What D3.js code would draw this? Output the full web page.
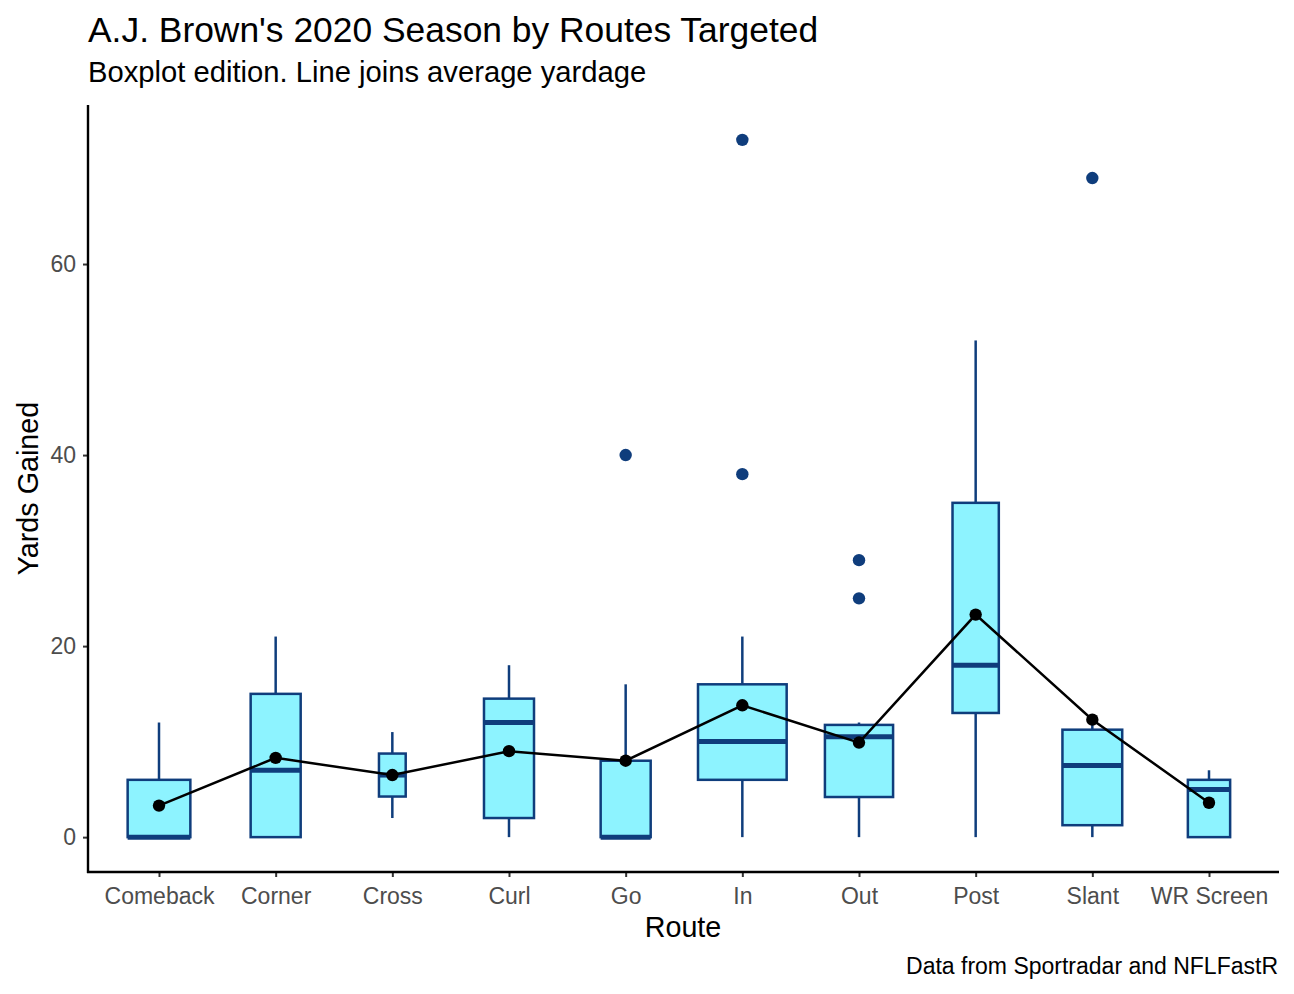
<!DOCTYPE html>
<meta charset="utf-8">
<script src="https://cdn.jsdelivr.net/npm/d3@7"></script>
<style>
    body { margin: 0; background: #fff; }
    svg text { font-family: "Liberation Sans", Arial, Helvetica, sans-serif; }
</style>
<div id="chart"></div>
<script>
// route categories, in axis order
var routes = ["Comeback", "Corner", "Cross", "Curl", "Go", "In", "Out", "Post", "Slant", "WR Screen"];
// boxplot stats per route (yards)
var whiskerLow = [0, 0, 2, 0, 0, 0, 0, 0, 0, 0];
var q1 = [0, 0, 4.25, 2, 0, 6, 4.2, 13, 1.25, 0];
var median = [0, 7, 6.5, 12, 0, 10, 10.5, 18, 7.5, 5];
var q3 = [6, 15, 8.75, 14.5, 8, 16, 11.75, 35, 11.25, 6];
var whiskerHigh = [12, 21, 11, 18, 16, 21, 12, 52, 12, 7];
var meanYards = [3.3, 8.3, 6.5, 9.0, 8.0, 13.8, 9.9, 23.3, 12.3, 3.6];
var targets = [11, 7, 2, 7, 7, 22, 13, 6, 10, 5];
var outliers = [[], [], [], [], [40], [38, 73], [25, 29], [], [69], []];
var yTicks = [0, 20, 40, 60];

var W = 1294, H = 994;
var pL = 89, pR = 1279, pT = 105, pB = 872;
var lineCol = "#0f3d7c", fillCol = "#8df3ff";

var svg = d3.select("#chart").append("svg").attr("width", W).attr("height", H);

var x = d3.scalePoint().domain(routes).range([pL, pR]).padding(0.6);
var y = d3.scaleLinear().domain([-3.65, 76.65]).range([pB, pT]);
var boxW = d3.scaleSqrt().domain([0, d3.max(targets)]).range([0, x.step() * 0.76]);

var rows = routes.map(function (r, i) {
    return { route: r, lo: whiskerLow[i], q1: q1[i], med: median[i], q3: q3[i], hi: whiskerHigh[i],
        mean: meanYards[i], n: targets[i], out: outliers[i] };
});

// boxes
var g = svg.append("g");
var items = g.selectAll("g").data(rows).enter().append("g");
items.each(function (d) {
    var s = d3.select(this), cx = x(d.route), w = boxW(d.n);
    s.append("line").attr("x1", cx).attr("x2", cx).attr("y1", y(d.q3)).attr("y2", y(d.hi))
        .style("stroke", lineCol).style("stroke-width", 2.5);
    s.append("line").attr("x1", cx).attr("x2", cx).attr("y1", y(d.q1)).attr("y2", y(d.lo))
        .style("stroke", lineCol).style("stroke-width", 2.5);
    s.append("rect").attr("x", cx - w / 2).attr("width", w)
        .attr("y", y(d.q3)).attr("height", y(d.q1) - y(d.q3))
        .style("fill", fillCol).style("stroke", lineCol).style("stroke-width", 2.5);
    s.append("line").attr("x1", cx - w / 2).attr("x2", cx + w / 2).attr("y1", y(d.med)).attr("y2", y(d.med))
        .style("stroke", lineCol).style("stroke-width", 5);
    s.selectAll("circle").data(d.out).enter().append("circle")
        .attr("cx", cx).attr("cy", function (v) { return y(v); }).attr("r", 6.2)
        .style("fill", lineCol);
});

// mean line + points
svg.append("path").datum(rows)
    .attr("d", d3.line().x(function (d) { return x(d.route); }).y(function (d) { return y(d.mean); }))
    .style("fill", "none").style("stroke", "#000").style("stroke-width", 2.5);
svg.append("g").selectAll("circle").data(rows).enter().append("circle")
    .attr("cx", function (d) { return x(d.route); }).attr("cy", function (d) { return y(d.mean); })
    .attr("r", 6.2).style("fill", "#000");

// axes
var yAxis = svg.append("g").attr("transform", "translate(" + (pL - 1) + ",0)")
    .call(d3.axisLeft(y).tickValues(yTicks).tickSize(5).tickPadding(7));
var xAxis = svg.append("g").attr("transform", "translate(0," + pB + ")")
    .call(d3.axisBottom(x).tickSize(5).tickPadding(5));
[yAxis, xAxis].forEach(function (a) {
    a.select(".domain").remove();
    a.selectAll(".tick line").style("stroke", "#333").style("stroke-width", 2);
    a.selectAll(".tick text").style("fill", "#4d4d4d").style("font-size", "23px")
        .style("font-family", "'Liberation Sans', Arial, sans-serif");
});
xAxis.selectAll(".tick text").attr("dy", "0.97em");
svg.append("line").attr("x1", pL - 1).attr("x2", pL - 1).attr("y1", pT).attr("y2", pB + 1)
    .style("stroke", "#000").style("stroke-width", 2.4);
svg.append("line").attr("x1", pL - 2).attr("x2", pR).attr("y1", pB).attr("y2", pB)
    .style("stroke", "#000").style("stroke-width", 2.4);

// labels
svg.append("text").attr("x", 88).attr("y", 42).text("A.J. Brown's 2020 Season by Routes Targeted")
    .style("font-size", "35.4px").style("fill", "#000");
svg.append("text").attr("x", 88).attr("y", 82).text("Boxplot edition. Line joins average yardage")
    .style("font-size", "29.2px").style("fill", "#000");
svg.append("text").attr("x", 683).attr("y", 937).attr("text-anchor", "middle")
    .text("Route").style("font-size", "28.7px").style("fill", "#000");
svg.append("text").attr("transform", "translate(38," + ((pT + pB) / 2) + ") rotate(-90)")
    .attr("text-anchor", "middle").text("Yards Gained").style("font-size", "28.7px").style("fill", "#000");
svg.append("text").attr("x", 1278).attr("y", 974).attr("text-anchor", "end")
    .text("Data from Sportradar and NFLFastR").style("font-size", "23px").style("fill", "#000");
</script>
